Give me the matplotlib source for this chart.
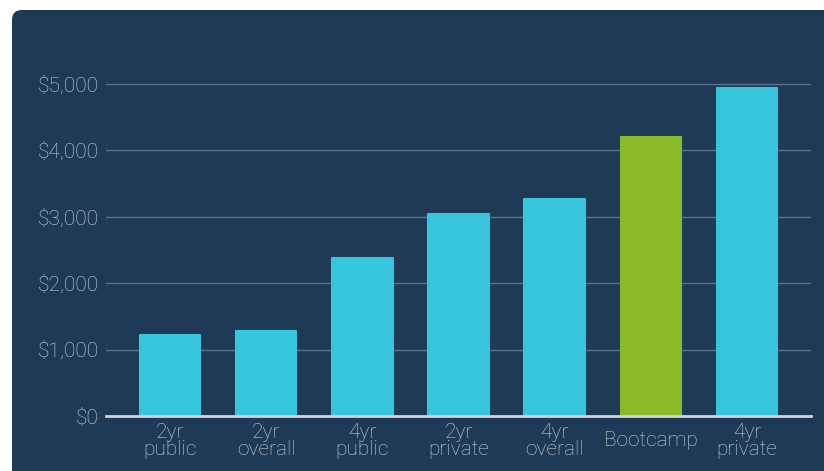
import matplotlib
matplotlib.use("Agg")
import matplotlib.pyplot as plt
from matplotlib.patches import FancyBboxPatch
from matplotlib.ticker import FuncFormatter

categories = ["2yr\npublic", "2yr\noverall", "4yr\npublic", "2yr\nprivate",
              "4yr\noverall", "Bootcamp", "4yr\nprivate"]
values = [1220, 1280, 2380, 3040, 3270, 4200, 4940]
bar_colors = ["#35c5dd", "#35c5dd", "#35c5dd", "#35c5dd", "#35c5dd", "#8bba28", "#35c5dd"]
yticks = [0, 1000, 2000, 3000, 4000, 5000]

BG = "#1f3a57"
TXT = "#ced2d7"
plt.rcParams['font.family'] = ['Roboto', 'DejaVu Sans']

W, H = 824, 471
fig = plt.figure(figsize=(W / 100, H / 100), dpi=100)
fig.patch.set_facecolor("white")

panel = FancyBboxPatch((12 / W, -0.2), 1.2, 1.2 - 10 / H,
                       boxstyle="round,pad=0,rounding_size=0.012",
                       transform=fig.transFigure, facecolor=BG, edgecolor="none",
                       mutation_aspect=W / H, zorder=-10)
fig.patches.append(panel)

ax = fig.add_axes([106 / W, 1 - 416 / H, (811 - 106) / W, (416 - 50.8) / H])
ax.set_facecolor("none")
ax.set_zorder(1)
x = list(range(len(categories)))
ax.bar(x, values, width=0.63, color=bar_colors, edgecolor=bar_colors,
       linewidth=1.5, joinstyle="round", zorder=3)
ax.set_xlim(-0.665, len(categories) - 1 + 0.665)
ax.set_ylim(0, 5500)
ax.set_yticks(yticks)
ax.yaxis.set_major_formatter(FuncFormatter(lambda v, p: f"${int(v):,}"))
ax.grid(axis="y", color="#5b7189", linewidth=1.0, zorder=1)
ax.set_axisbelow(True)
for s in ["top", "right", "left"]:
    ax.spines[s].set_visible(False)
ax.spines["bottom"].set_color("#d0d3d8")
ax.spines["bottom"].set_linewidth(2)
ax.spines["bottom"].set_zorder(4)
ax.tick_params(axis="y", length=0, pad=5, labelsize=15, labelcolor=TXT)
ax.tick_params(axis="x", length=0, pad=18, labelsize=15, labelcolor=TXT)
ax.set_xticks(x)
ax.set_xticklabels(categories, va="center", linespacing=0.92)
for lab in ax.get_yticklabels() + ax.get_xticklabels():
    lab.set_fontweight("light")

fig.savefig("out.png", dpi=100, facecolor=fig.get_facecolor())
